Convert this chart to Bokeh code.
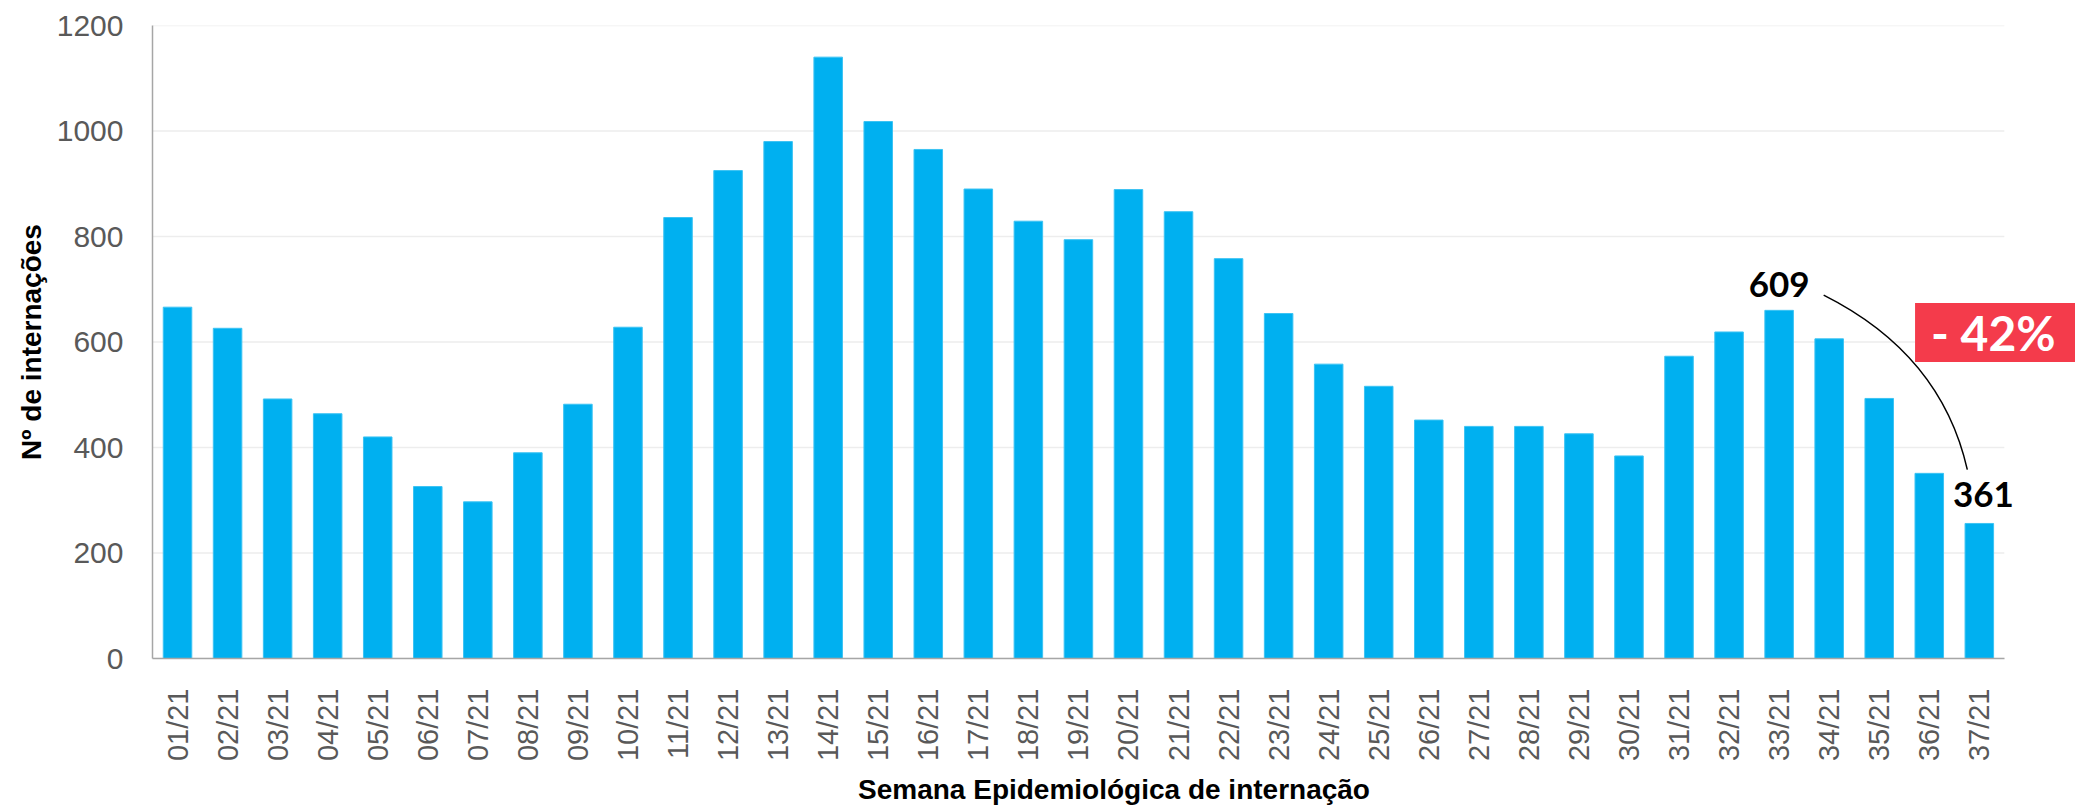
import math
from bokeh.plotting import figure
from bokeh.models import Range1d, Label, FixedTicker
from bokeh.embed import file_html
from bokeh.resources import INLINE

weeks = ["01/21", "02/21", "03/21", "04/21", "05/21", "06/21", "07/21", "08/21", "09/21", "10/21",
         "11/21", "12/21", "13/21", "14/21", "15/21", "16/21", "17/21", "18/21", "19/21", "20/21",
         "21/21", "22/21", "23/21", "24/21", "25/21", "26/21", "27/21", "28/21", "29/21", "30/21",
         "31/21", "32/21", "33/21", "34/21", "35/21", "36/21", "37/21"]
internacoes = [666, 626, 492, 464, 420, 326, 297, 390, 482, 628,
               836, 925, 980, 1140, 1018, 965, 890, 829, 794, 889,
               847, 758, 654, 558, 516, 452, 440, 440, 426, 384,
               573, 619, 660, 606, 493, 351, 256]
y_ticks = [0, 200, 400, 600, 800, 1000, 1200]

start_week = "33/21"
end_week = "37/21"
start_text = "609"
end_text = "361"
change_text = "- 42%"

BAR = "#00B0F0"
GRAY_TXT = "#595959"

n = len(weeks)
pos = list(range(1, n + 1))

W, H = 2075, 808
LEFT, RIGHT, TOP, BOTTOM = 152, 0, 25, 149
px_per_cat = 50.05
x_end = 0.5 + (W - LEFT - RIGHT) / px_per_cat

p = figure(x_range=Range1d(0.5, x_end), y_range=Range1d(0, 1200),
           width=W, height=H, output_backend="svg", toolbar_location=None,
           min_border_left=LEFT, min_border_right=RIGHT, min_border_top=TOP, min_border_bottom=BOTTOM)
p.outline_line_color = None
p.background_fill_color = "white"

# horizontal grid lines limited to the category area
p.xgrid.grid_line_color = None
p.ygrid.grid_line_color = None
p.segment(x0=[0.5] * len(y_ticks), x1=[n + 0.5] * len(y_ticks), y0=y_ticks, y1=y_ticks,
          line_color="#EDEDED", line_width=1.5, level="underlay")

p.vbar(x=pos, top=internacoes, width=0.57, fill_color=BAR, line_color="#3cc3f3", line_width=1)

# y axis
p.yaxis.ticker = FixedTicker(ticks=y_ticks)
p.yaxis.axis_label = "Nº de internações"
p.yaxis.axis_label_text_font = "Liberation Sans"
p.yaxis.axis_label_text_font_style = "bold"
p.yaxis.axis_label_text_font_size = "28px"
p.yaxis.axis_label_text_color = "black"
p.yaxis.axis_label_standoff = 7
p.yaxis.major_label_text_font = "Liberation Sans"
p.yaxis.major_label_text_font_size = "30px"
p.yaxis.major_label_text_color = GRAY_TXT
p.yaxis.major_label_standoff = 23
p.yaxis.major_tick_line_color = None
p.yaxis.minor_tick_line_color = None
p.yaxis.axis_line_color = "#A6A6A6"
p.yaxis.axis_line_width = 1.5

# x axis
p.xaxis.ticker = FixedTicker(ticks=pos)
p.xaxis.major_label_overrides = {k: w for k, w in zip(pos, weeks)}
p.xaxis.bounds = (0.5, n + 0.5)
p.xaxis.axis_label = "Semana Epidemiológica de internação"
p.xaxis.axis_label_text_font = "Liberation Sans"
p.xaxis.axis_label_text_font_style = "bold"
p.xaxis.axis_label_text_font_size = "28px"
p.xaxis.axis_label_text_color = "black"
p.xaxis.axis_label_standoff = 10
p.xaxis.major_label_text_font = "Liberation Sans"
p.xaxis.major_label_text_font_size = "29px"
p.xaxis.major_label_text_color = GRAY_TXT
p.xaxis.major_label_orientation = math.pi / 2
p.xaxis.major_label_standoff = 24
p.xaxis.major_tick_line_color = None
p.xaxis.minor_tick_line_color = None
p.xaxis.axis_line_color = "#A6A6A6"
p.xaxis.axis_line_width = 1.5

# annotation: change between two weeks
c0 = pos[weeks.index(start_week)]
c1 = pos[weeks.index(end_week)]
v0 = internacoes[weeks.index(start_week)]
v1 = internacoes[weeks.index(end_week)]

p.add_layout(Label(x=c0, y=v0 + 49, text=start_text, text_font="Lato", text_font_style="bold",
                   text_font_size="35px", text_color="black", text_align="center",
                   text_baseline="middle"))
p.add_layout(Label(x=c1 + 0.08, y=v1 + 54, text=end_text, text_font="Lato", text_font_style="bold",
                   text_font_size="35px", text_color="black", text_align="center",
                   text_baseline="middle"))
p.quadratic(x0=[c0 + 0.89], y0=[v0 + 29], x1=[c1 - 0.24], y1=[v1 + 102],
            cx=[c1 - 0.76], cy=[v1 + 321], line_color="black", line_width=1.5)
p.add_layout(Label(x=c1 + 0.42, y=v0 - 42, text=change_text, text_font="Lato", text_font_style="bold",
                   text_font_size="48px", text_color="white", text_align="center",
                   text_baseline="middle", background_fill_color="#F43B4B",
                   padding=dict(left=16, right=30, top=1, bottom=1)))

open("out.html", "w").write(file_html(p, INLINE))
